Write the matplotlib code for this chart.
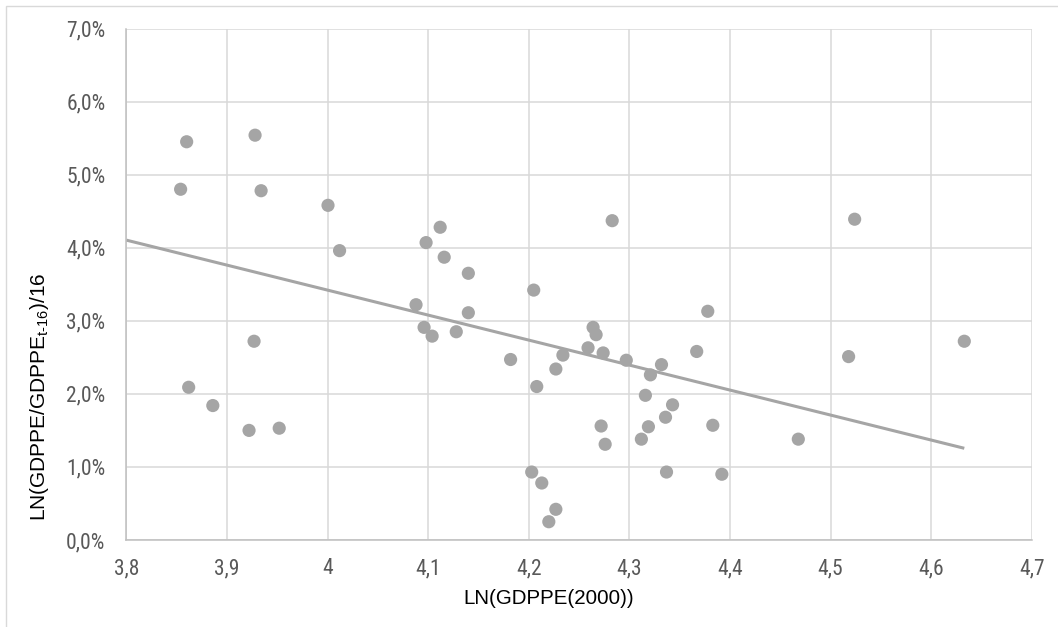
import numpy as np
import matplotlib
matplotlib.use("Agg")
import matplotlib.pyplot as plt
from matplotlib.patches import Rectangle
from matplotlib.ticker import FuncFormatter
from matplotlib import font_manager as fm

# Data (x = LN(GDPPE(2000)), y = growth in %)
x_vals = [3.860, 3.928, 3.854, 3.934, 4.0005, 4.012, 4.112, 4.098, 4.116, 4.140,
          4.088, 4.140, 4.096, 4.104, 4.128, 3.927,
          3.862, 3.886, 3.922, 3.952,
          4.283, 4.205, 4.378, 4.264, 4.267,
          4.182, 4.234, 4.259, 4.274, 4.297, 4.332, 4.321, 4.367, 4.227, 4.208,
          4.316, 4.343, 4.336, 4.319, 4.312, 4.272, 4.276, 4.383, 4.337, 4.392,
          4.203, 4.213, 4.227, 4.220,
          4.524, 4.518, 4.633, 4.468]
y_vals = [5.45, 5.54, 4.80, 4.78, 4.58, 3.96, 4.28, 4.07, 3.87, 3.65,
          3.22, 3.11, 2.91, 2.79, 2.85, 2.72,
          2.09, 1.84, 1.50, 1.53,
          4.37, 3.42, 3.13, 2.91, 2.81,
          2.47, 2.53, 2.63, 2.56, 2.46, 2.40, 2.26, 2.58, 2.34, 2.10,
          1.98, 1.85, 1.68, 1.55, 1.38, 1.56, 1.31, 1.57, 0.93, 0.90,
          0.93, 0.78, 0.42, 0.25,
          4.39, 2.51, 2.72, 1.38]

# Linear trend line as shown in the chart
trend_slope = -3.42
trend_intercept = 17.10
trend_x_range = [3.8, 4.633]

x_ticks = [3.8, 3.9, 4.0, 4.1, 4.2, 4.3, 4.4, 4.5, 4.6, 4.7]
y_ticks = [0, 1, 2, 3, 4, 5, 6, 7]
x_label = "LN(GDPPE(2000))"


def pick(cands):
    for c in cands:
        try:
            fm.findfont(fm.FontProperties(family=c), fallback_to_default=False)
            return c
        except Exception:
            pass
    return "DejaVu Sans"


narrow = pick(["Liberation Sans Narrow", "Arial Narrow", "Roboto Condensed",
               "Liberation Sans", "Arial", "Roboto"])
sans = pick(["Liberation Sans", "Arial", "Roboto", "Noto Sans"])

plt.rcParams["mathtext.fontset"] = "custom"
plt.rcParams["mathtext.rm"] = sans
plt.rcParams["mathtext.it"] = sans
plt.rcParams["mathtext.bf"] = sans

y_label = r"LN(GDPPE/GDPPE$_{\mathrm{t\text{-}16}}$)/16"

x = np.array(x_vals)
y = np.array(y_vals)

W, H = 1058, 627
fig = plt.figure(figsize=(W / 100, H / 100), dpi=100)
fig.patch.set_facecolor("white")
ax = fig.add_axes([126.3 / W, 1 - 540 / H, (1031.7 - 126.3) / W, (540 - 28.5) / H])

grid_c = "#D9D9D9"
pt_c = "#A5A5A5"

ax.scatter(x, y, s=90, color=pt_c, edgecolors="none", zorder=3)

xt = np.array(trend_x_range)
ax.plot(xt, trend_slope * xt + trend_intercept, color=pt_c, lw=2.2, zorder=2,
        solid_capstyle="butt")

ax.set_xlim(3.8, 4.7)
ax.set_ylim(0, 7)
ax.set_xticks(x_ticks)
ax.set_yticks(y_ticks)


def fx(v, pos):
    s = f"{v:.1f}"
    if s.endswith(".0"):
        s = s[:-2]
    return s.replace(".", ",")


def fy(v, pos):
    return f"{v:.1f}%".replace(".", ",")


ax.xaxis.set_major_formatter(FuncFormatter(fx))
ax.yaxis.set_major_formatter(FuncFormatter(fy))

for lab in ax.get_xticklabels() + ax.get_yticklabels():
    lab.set_fontfamily([narrow, "DejaVu Sans"])
    lab.set_fontsize(15.5)
    lab.set_color("#595959")

ax.tick_params(axis="both", length=0)
ax.tick_params(axis="x", pad=13)
ax.tick_params(axis="y", pad=15)

ax.grid(True, color=grid_c, lw=1.1, zorder=0)
ax.set_axisbelow(True)
for side in ["top", "right"]:
    ax.spines[side].set_visible(False)
for side in ["left", "bottom"]:
    ax.spines[side].set_color("#BFBFBF")
    ax.spines[side].set_linewidth(1.1)

fig.text(549 / W, 1 - 598 / H, x_label, ha="center", va="center",
         fontsize=14.8, fontfamily=[sans, "DejaVu Sans"], color="black")
fig.text(40 / W, 1 - 397 / H, y_label, ha="center", va="center", rotation=90,
         fontsize=15, fontfamily=[sans, "DejaVu Sans"], color="black")

# Chart area border
fig.patches.append(Rectangle((6 / W, -0.02), 1.05, 1 - 6 / H + 0.02,
                             transform=fig.transFigure, fill=False,
                             edgecolor="#D9D9D9", lw=1.0))

fig.savefig("out.png", dpi=100)
